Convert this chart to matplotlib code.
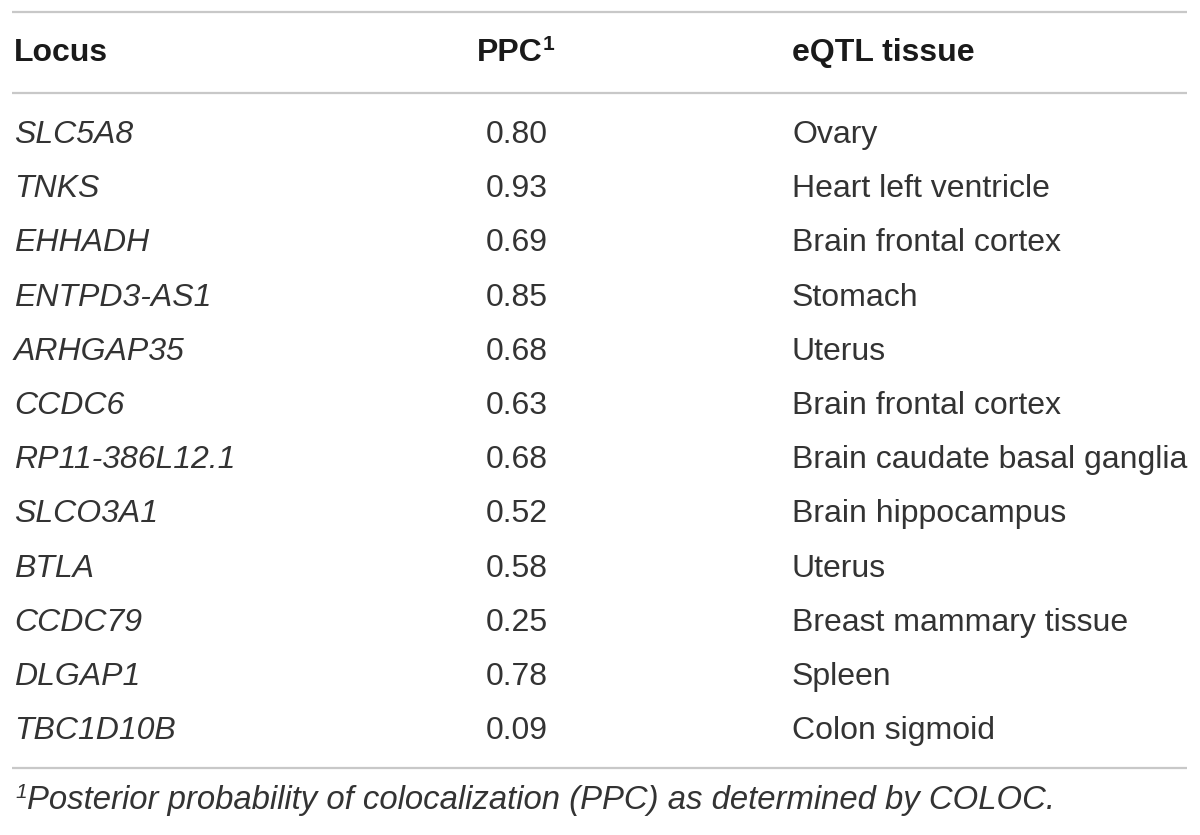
import matplotlib
matplotlib.use("Agg")
import matplotlib.pyplot as plt

loci = ["SLC5A8", "TNKS", "EHHADH", "ENTPD3-AS1", "ARHGAP35", "CCDC6",
        "RP11-386L12.1", "SLCO3A1", "BTLA", "CCDC79", "DLGAP1", "TBC1D10B"]
ppc = [0.80, 0.93, 0.69, 0.85, 0.68, 0.63, 0.68, 0.52, 0.58, 0.25, 0.78, 0.09]
tissues = ["Ovary", "Heart left ventricle", "Brain frontal cortex", "Stomach",
           "Uterus", "Brain frontal cortex", "Brain caudate basal ganglia",
           "Brain hippocampus", "Uterus", "Breast mammary tissue", "Spleen",
           "Colon sigmoid"]
headers = ["Locus", "PPC", "eQTL tissue"]
footnote = "Posterior probability of colocalization (PPC) as determined by COLOC."

plt.rcParams['font.family'] = ['Liberation Sans', 'DejaVu Sans']

W, H = 1200, 835
fig = plt.figure(figsize=(W / 100, H / 100), dpi=100)
ax = fig.add_axes([0, 0, 1, 1])
ax.set_xlim(0, W)
ax.set_ylim(H, 0)
ax.axis("off")

txt = "#333333"
head_c = "#1a1a1a"
line_c = "#c8c8c8"
fs = 23

col_x = [14, 517, 792]
y_head = 53
y0, dy = 135, 54.2

# rules
for y in [12, 93, 768]:
    ax.plot([12, 1187], [y, y], color=line_c, lw=1.6, solid_capstyle="butt")

# header
ax.text(col_x[0], y_head, headers[0], fontsize=fs, fontweight="bold",
        color=head_c, va="center", ha="left")
ax.text(col_x[1] - 7, y_head, headers[1], fontsize=fs, fontweight="bold",
        color=head_c, va="center", ha="center")
ax.text(col_x[1] + 26, y_head - 9, "1", fontsize=15, fontweight="bold",
        color=head_c, va="center", ha="left")
ax.text(col_x[2], y_head, headers[2], fontsize=fs, fontweight="bold",
        color=head_c, va="center", ha="left")

for i, (loc, p, t) in enumerate(zip(loci, ppc, tissues)):
    y = y0 + i * dy
    ax.text(col_x[0], y, loc, fontsize=fs, style="italic", color=txt,
            va="center", ha="left")
    ax.text(col_x[1], y, f"{p:.2f}", fontsize=fs, color=txt,
            va="center", ha="center")
    ax.text(col_x[2], y, t, fontsize=fs, color=txt, va="center", ha="left")

# footnote
ax.text(15, 792, "1", fontsize=15, color=txt, va="center", ha="left",
        style="italic")
ax.text(27, 801, footnote, fontsize=23.7, style="italic", color=txt,
        va="center", ha="left")

fig.savefig("out.png", dpi=100, facecolor="white")
